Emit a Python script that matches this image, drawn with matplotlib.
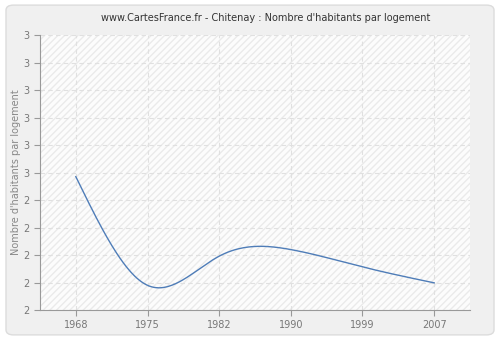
import numpy as np
import matplotlib
matplotlib.use("Agg")
import matplotlib.pyplot as plt
from matplotlib.patches import FancyBboxPatch

# Nombre d'habitants par logement, Chitenay
annees = ["1968", "1975", "1982", "1990", "1999", "2007"]
valeurs = [2.485, 2.09, 2.196, 2.22, 2.157, 2.099]
y_ticks = [2.0, 2.1, 2.2, 2.3, 2.4, 2.5, 2.6, 2.7, 2.8, 2.9, 3.0]
y_labels = ["2", "2", "2", "2", "2", "3", "3", "3", "3", "3", "3"]


def natural_spline(x, y, n=300):
    # spline cubique naturelle pour le tracé lissé
    x = np.asarray(x, float)
    y = np.asarray(y, float)
    k = len(x)
    h = np.diff(x)
    A = np.zeros((k, k))
    r = np.zeros(k)
    A[0, 0] = A[-1, -1] = 1
    for i in range(1, k - 1):
        A[i, i - 1] = h[i - 1]
        A[i, i] = 2 * (h[i - 1] + h[i])
        A[i, i + 1] = h[i]
        r[i] = 6 * ((y[i + 1] - y[i]) / h[i] - (y[i] - y[i - 1]) / h[i - 1])
    M = np.linalg.solve(A, r)
    xs = np.linspace(x[0], x[-1], n)
    idx = np.clip(np.searchsorted(x, xs) - 1, 0, k - 2)
    x0, x1 = x[idx], x[idx + 1]
    hh = x1 - x0
    a = (x1 - xs) / hh
    b = (xs - x0) / hh
    ys = (a * y[idx] + b * y[idx + 1]
          + ((a ** 3 - a) * M[idx] + (b ** 3 - b) * M[idx + 1]) * hh ** 2 / 6)
    return xs, ys


fig = plt.figure(figsize=(5, 3.4), dpi=100, facecolor="white")
fig.patches.append(FancyBboxPatch((0.012, 0.015), 0.976, 0.97,
                                  boxstyle="round,pad=0,rounding_size=0.015",
                                  transform=fig.transFigure, facecolor="#f0f0f0",
                                  edgecolor="#dcdcdc", linewidth=1, zorder=-10))

ax = fig.add_axes([0.08, 0.088, 0.86, 0.809])
ax.set_facecolor("#fcfcfc")
ax.add_patch(plt.Rectangle((0, 0), 1, 1, transform=ax.transAxes, facecolor="none",
                           edgecolor="#eaeaea", hatch="/////", linewidth=0, zorder=0))

pos = np.arange(len(annees))
xs, ys = natural_spline(pos, valeurs)
ax.plot(xs, ys, color="#4f7db8", linewidth=1, zorder=3)

ax.set_xlim(-0.5, len(annees) - 0.5)
ax.set_ylim(2.0, 3.0)
ax.set_xticks(pos)
ax.set_xticklabels(annees)
ax.set_yticks(y_ticks)
ax.set_yticklabels(y_labels)
ax.grid(True, color="#e0e0e0", linestyle=(0, (4, 3)), linewidth=0.8)
ax.set_axisbelow(True)

for s in ["top", "right"]:
    ax.spines[s].set_visible(False)
for s in ["left", "bottom"]:
    ax.spines[s].set_color("#999999")
ax.tick_params(colors="#999999", labelcolor="#777777", labelsize=7, length=4, width=0.8)

ax.set_ylabel("Nombre d'habitants par logement", fontsize=7, color="#888888", labelpad=2)
ax.set_title("www.CartesFrance.fr - Chitenay : Nombre d'habitants par logement",
             fontsize=7, color="#333333", pad=10, x=0.526)

fig.savefig("out.png", dpi=100, facecolor=fig.get_facecolor())
